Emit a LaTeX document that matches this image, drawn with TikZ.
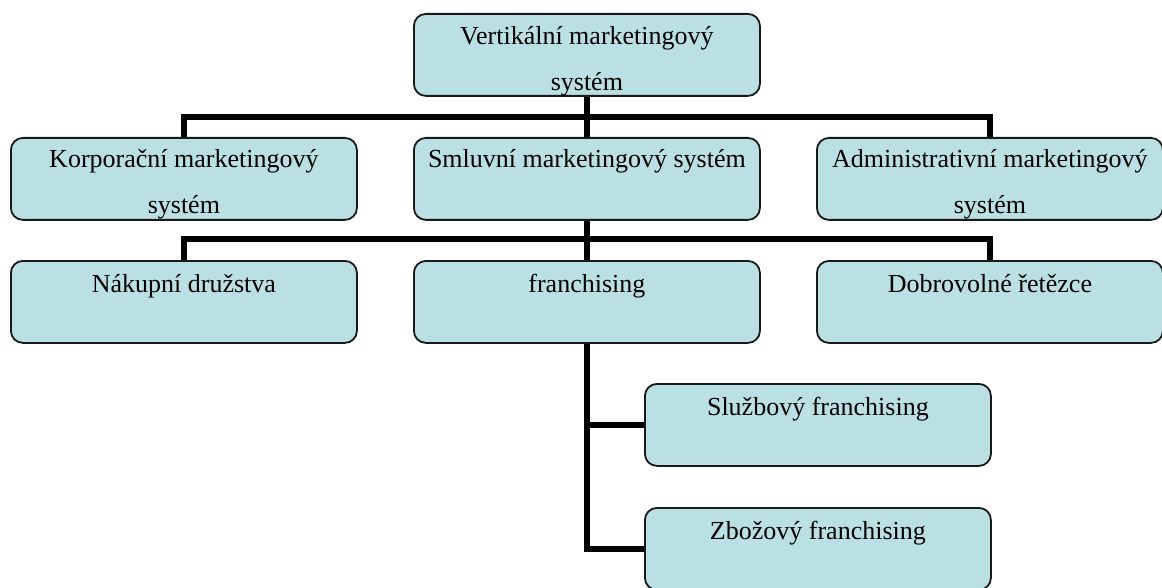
\documentclass[tikz,border=0pt]{standalone}
\usepackage{fontspec}
\setmainfont{Liberation Serif}
\usetikzlibrary{backgrounds}
\definecolor{boxfill}{RGB}{186,224,227}
\definecolor{boxline}{RGB}{25,25,25}
\begin{document}
\begin{tikzpicture}[x=1pt,y=-1pt,
  box/.style={draw=boxline,line width=1.8pt,fill=boxfill,rounded corners=12pt,
    minimum width=346pt,minimum height=82pt,anchor=north west,inner sep=0pt},
  lbl/.style={anchor=base,align=center,font=\fontsize{26}{46}\selectfont,inner sep=0pt},
  conn/.style={draw=black,line width=6pt}]
\useasboundingbox (0,0) rectangle (1162,588);
\node[box] (top) at (413,13) {};
\node[box] (kor) at (10,137) {};
\node[box] (sml) at (413,137) {};
\node[box] (adm) at (816,137) {};
\node[box] (nak) at (10,260) {};
\node[box] (fra) at (413,260) {};
\node[box] (dob) at (816,260) {};
\node[box] (slu) at (644,383) {};
\node[box] (zbo) at (644,507) {};
\begin{scope}[on background layer]
\draw[conn] (top.south) -- (sml.north);
\draw[conn] (kor.north) -- ++(0,-20) -| (adm.north);
\draw[conn] (sml.south) -- (fra.north);
\draw[conn] (nak.north) -- ++(0,-21) -| (dob.north);
\draw[conn] (fra.south) |- (zbo.west);
\draw[conn] (fra.south |- slu.west) -- (slu.west);
\end{scope}
\node[lbl] (ttop) at ([yshift=-78pt]top.north) {Vertikální marketingový\\systém};
\node[lbl] (tkor) at ([yshift=-77pt]kor.north) {Korporační marketingový\\systém};
\node[lbl] (tsml) at ([yshift=-31pt]sml.north) {Smluvní marketingový systém};
\node[lbl] (tadm) at ([yshift=-77pt]adm.north) {Administrativní marketingový\\systém};
\node[lbl] (tnak) at ([yshift=-32pt]nak.north) {Nákupní družstva};
\node[lbl] (tfra) at ([yshift=-32pt]fra.north) {franchising};
\node[lbl] (tdob) at ([yshift=-32pt]dob.north) {Dobrovolné řetězce};
\node[lbl] (tslu) at ([yshift=-32pt]slu.north) {Službový franchising};
\node[lbl] (tzbo) at ([yshift=-32pt]zbo.north) {Zbožový franchising};
\end{tikzpicture}
\end{document}
